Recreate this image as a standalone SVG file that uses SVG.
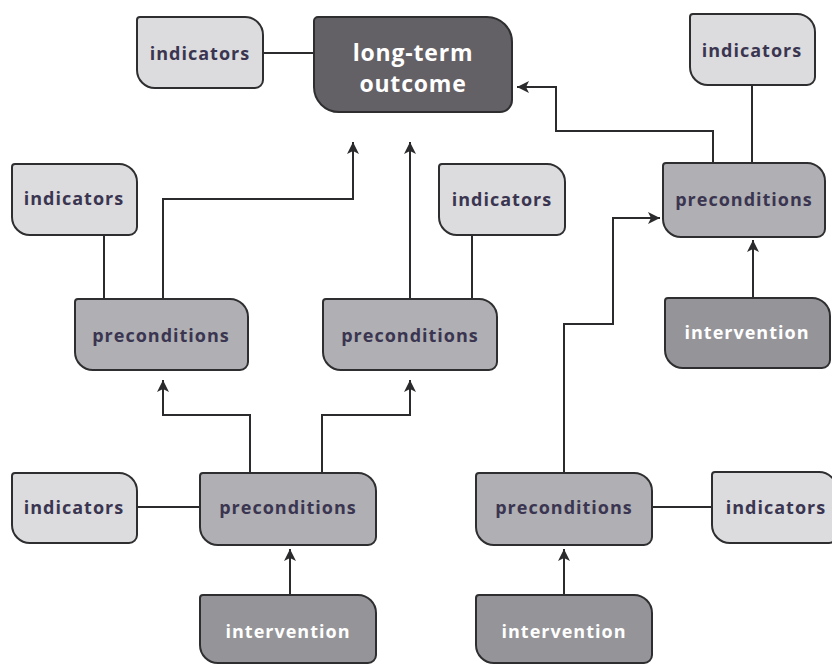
<svg xmlns="http://www.w3.org/2000/svg" width="832" height="664" viewBox="0 0 832 664">
<defs>
<style>
.box{stroke:#2e2e30;stroke-width:2}
.ind{fill:#dcdcde}
.pre{fill:#b0afb3}
.int{fill:#959499}
.out{fill:#646166}
text{font-family:"Open Sans","DejaVu Sans",sans-serif;font-weight:700;text-anchor:middle}
.dk{fill:#3a3550;font-size:18px;letter-spacing:1px}
.lt{fill:#ffffff;font-size:18px;letter-spacing:1px}
.big{fill:#ffffff;font-size:23px;letter-spacing:0.8px}
.ln{fill:none;stroke:#2b2b2d;stroke-width:2}
</style>
<marker id="ah" markerUnits="userSpaceOnUse" markerWidth="14" markerHeight="14" viewBox="0 0 14 14" refX="13" refY="7" orient="auto">
<path d="M1,1 L13,7 L1,13 L4,7 Z" fill="#2b2b2d"/>
</marker>
</defs>
<rect width="832" height="664" fill="#ffffff"/>
<g id="connectors">
<path class="ln" d="M263,53 H314"/>
<path class="ln" d="M752,85 V163"/>
<path class="ln" d="M104,235 V299"/>
<path class="ln" d="M472,235 V299"/>
<path class="ln" d="M137,507 H200"/>
<path class="ln" d="M652,507 H712"/>
<path class="ln" d="M713,163 V131 H556 V87 H517" marker-end="url(#ah)"/>
<path class="ln" d="M753,298 V240" marker-end="url(#ah)"/>
<path class="ln" d="M163,299 V199 H353 V142" marker-end="url(#ah)"/>
<path class="ln" d="M410,299 V142" marker-end="url(#ah)"/>
<path class="ln" d="M250,473 V415 H163 V380" marker-end="url(#ah)"/>
<path class="ln" d="M322,473 V415 H410 V380" marker-end="url(#ah)"/>
<path class="ln" d="M290,595 V549" marker-end="url(#ah)"/>
<path class="ln" d="M564,595 V549" marker-end="url(#ah)"/>
<path class="ln" d="M564,473 V324 H613 V218 H660" marker-end="url(#ah)"/>
</g>
<g id="indicators-top-left">
<path class="box ind" d="M140,17 H245 A18,18 0 0 1 263,35 V80 A8,8 0 0 1 255,88 H155 A18,18 0 0 1 137,70 V20 A3,3 0 0 1 140,17 Z"/>
<text class="dk" x="200" y="60">indicators</text>
</g>
<g id="long-term-outcome">
<path class="box out" d="M318,17 H487 A25,25 0 0 1 512,42 V100 A12,12 0 0 1 500,112 H339 A25,25 0 0 1 314,87 V21 A4,4 0 0 1 318,17 Z"/>
<text class="big" x="413" y="61">long-term</text>
<text class="big" x="413" y="92">outcome</text>
</g>
<g id="indicators-top-right">
<path class="box ind" d="M693,14 H797 A18,18 0 0 1 815,32 V77 A8,8 0 0 1 807,85 H708 A18,18 0 0 1 690,67 V17 A3,3 0 0 1 693,14 Z"/>
<text class="dk" x="752" y="57">indicators</text>
</g>
<g id="preconditions-right">
<path class="box pre" d="M666,163 H807 A18,18 0 0 1 825,181 V229 A8,8 0 0 1 817,237 H681 A18,18 0 0 1 663,219 V166 A3,3 0 0 1 666,163 Z"/>
<text class="dk" x="744" y="206">preconditions</text>
</g>
<g id="intervention-right">
<path class="box int" d="M668,298 H812 A18,18 0 0 1 830,316 V360 A8,8 0 0 1 822,368 H683 A18,18 0 0 1 665,350 V301 A3,3 0 0 1 668,298 Z"/>
<text class="lt" x="747" y="339">intervention</text>
</g>
<g id="indicators-mid-left">
<path class="box ind" d="M15,164 H119 A18,18 0 0 1 137,182 V227 A8,8 0 0 1 129,235 H30 A18,18 0 0 1 12,217 V167 A3,3 0 0 1 15,164 Z"/>
<text class="dk" x="74" y="205">indicators</text>
</g>
<g id="preconditions-left">
<path class="box pre" d="M78,299 H230 A18,18 0 0 1 248,317 V362 A8,8 0 0 1 240,370 H93 A18,18 0 0 1 75,352 V302 A3,3 0 0 1 78,299 Z"/>
<text class="dk" x="161" y="342">preconditions</text>
</g>
<g id="indicators-mid">
<path class="box ind" d="M442,164 H547 A18,18 0 0 1 565,182 V227 A8,8 0 0 1 557,235 H457 A18,18 0 0 1 439,217 V167 A3,3 0 0 1 442,164 Z"/>
<text class="dk" x="502" y="206">indicators</text>
</g>
<g id="preconditions-mid">
<path class="box pre" d="M326,299 H479 A18,18 0 0 1 497,317 V362 A8,8 0 0 1 489,370 H341 A18,18 0 0 1 323,352 V302 A3,3 0 0 1 326,299 Z"/>
<text class="dk" x="410" y="342">preconditions</text>
</g>
<g id="indicators-bottom-left">
<path class="box ind" d="M15,473 H119 A18,18 0 0 1 137,491 V535 A8,8 0 0 1 129,543 H30 A18,18 0 0 1 12,525 V476 A3,3 0 0 1 15,473 Z"/>
<text class="dk" x="74" y="514">indicators</text>
</g>
<g id="preconditions-bottom-left">
<path class="box pre" d="M203,473 H358 A18,18 0 0 1 376,491 V537 A8,8 0 0 1 368,545 H218 A18,18 0 0 1 200,527 V476 A3,3 0 0 1 203,473 Z"/>
<text class="dk" x="288" y="514">preconditions</text>
</g>
<g id="intervention-bottom-left">
<path class="box int" d="M203,595 H358 A18,18 0 0 1 376,613 V655 A8,8 0 0 1 368,663 H218 A18,18 0 0 1 200,645 V598 A3,3 0 0 1 203,595 Z"/>
<text class="lt" x="288" y="638">intervention</text>
</g>
<g id="preconditions-bottom-right">
<path class="box pre" d="M479,473 H634 A18,18 0 0 1 652,491 V537 A8,8 0 0 1 644,545 H494 A18,18 0 0 1 476,527 V476 A3,3 0 0 1 479,473 Z"/>
<text class="dk" x="564" y="514">preconditions</text>
</g>
<g id="indicators-bottom-right">
<path class="box ind" d="M715,472 H819 A18,18 0 0 1 837,490 V535 A8,8 0 0 1 829,543 H730 A18,18 0 0 1 712,525 V475 A3,3 0 0 1 715,472 Z"/>
<text class="dk" x="776" y="514">indicators</text>
</g>
<g id="intervention-bottom-right">
<path class="box int" d="M479,595 H634 A18,18 0 0 1 652,613 V655 A8,8 0 0 1 644,663 H494 A18,18 0 0 1 476,645 V598 A3,3 0 0 1 479,595 Z"/>
<text class="lt" x="564" y="638">intervention</text>
</g>
</svg>
